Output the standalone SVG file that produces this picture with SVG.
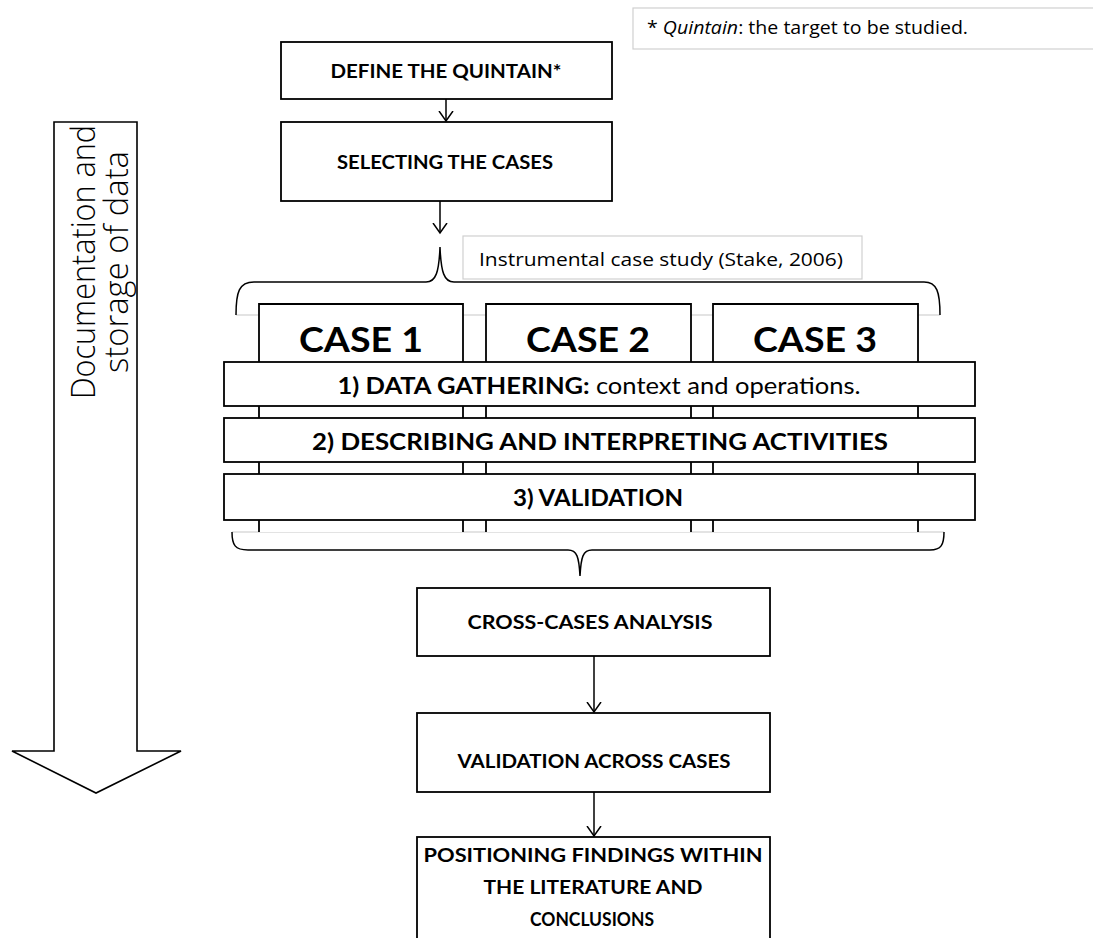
<svg xmlns="http://www.w3.org/2000/svg" width="1093" height="938" viewBox="0 0 1093 938">
<defs>
<style>
.box{fill:#fff;stroke:#000;stroke-width:1.8}
.note{fill:#fff;stroke:#d0d0d0;stroke-width:1.2}
.gray{stroke:#c8c8c8;stroke-width:1.2;fill:none}
.b{font-family:Lato,"Open Sans","Liberation Sans",sans-serif;font-weight:bold;fill:#000;text-anchor:middle}
.r{font-family:"Open Sans","Liberation Sans",sans-serif;fill:#000}
.con{stroke:#000;stroke-width:1.5;fill:none}
</style>
<marker id="v" markerUnits="userSpaceOnUse" markerWidth="20" markerHeight="20" refX="10" refY="10" orient="auto" viewBox="0 0 20 20">
<path d="M0,3 L10,10 L0,17" fill="none" stroke="#000" stroke-width="1.5"/>
</marker>
</defs>
<rect width="1093" height="938" fill="#fff"/>

<g id="note-quintain">
<rect class="note" x="633" y="8" width="470" height="41"/>
<text class="r" x="647" y="34" font-size="17.5" textLength="321" lengthAdjust="spacingAndGlyphs">* <tspan font-style="italic">Quintain</tspan>: the target to be studied.</text>
</g>

<g id="doc-arrow">
<polygon points="54,122 137,122 137,751 181,751 96,793 12,751 54,751" fill="#fff" stroke="#000" stroke-width="1.6"/>
<text class="r" transform="translate(95,262) rotate(-90)" text-anchor="middle" font-size="33" font-weight="300" textLength="274" lengthAdjust="spacingAndGlyphs">Documentation and</text>
<text class="r" transform="translate(128,262) rotate(-90)" text-anchor="middle" font-size="33" font-weight="300" textLength="222" lengthAdjust="spacingAndGlyphs">storage of data</text>
</g>

<g id="define">
<rect class="box" x="281" y="42" width="331" height="57"/>
<text class="b" x="446" y="77.5" font-size="18" textLength="231" lengthAdjust="spacingAndGlyphs">DEFINE THE QUINTAIN*</text>
</g>

<g id="selecting">
<rect class="box" x="281" y="122" width="331" height="79"/>
<text class="b" x="445" y="169" font-size="18" textLength="216" lengthAdjust="spacingAndGlyphs">SELECTING THE CASES</text>
</g>

<g id="instrumental-note">
<rect class="note" x="463" y="236" width="399" height="43"/>
<text class="r" x="479" y="266" font-size="19" textLength="364" lengthAdjust="spacingAndGlyphs">Instrumental case study (Stake, 2006)</text>
</g>

<g id="cases-frame">
<line class="gray" x1="236" y1="315" x2="940" y2="315"/>
<line class="gray" x1="232" y1="532" x2="944" y2="532"/>
<path class="con" d="M236,315 C236,292 239,282 254,282 L426,282 C436,282 439,272 440,247 C441,272 444,282 454,282 L924,282 C937,282 940,292 940,315"/>
<path class="con" d="M232,532 C232,545 235,550 248,550 L568,550 C577,550 579,557 580,576 C581,557 583,550 592,550 L930,550 C941,550 944,545 944,532"/>
</g>

<g id="case1">
<path class="box" d="M259,532 L259,304 L463,304 L463,532"/>
<text class="b" x="361" y="352" font-size="34" textLength="124" lengthAdjust="spacingAndGlyphs">CASE 1</text>
</g>
<g id="case2">
<path class="box" d="M486,532 L486,304 L691,304 L691,532"/>
<text class="b" x="588" y="352" font-size="34" textLength="124" lengthAdjust="spacingAndGlyphs">CASE 2</text>
</g>
<g id="case3">
<path class="box" d="M713,532 L713,304 L918,304 L918,532"/>
<text class="b" x="815" y="352" font-size="34" textLength="124" lengthAdjust="spacingAndGlyphs">CASE 3</text>
</g>

<g id="step1">
<rect class="box" x="224" y="362" width="751" height="44"/>
<text class="b" x="599" y="394" font-size="23" textLength="523" lengthAdjust="spacingAndGlyphs">1) DATA GATHERING: <tspan font-weight="normal">context and operations.</tspan></text>
</g>
<g id="step2">
<rect class="box" x="224" y="418" width="751" height="44"/>
<text class="b" x="600" y="450" font-size="23" textLength="576" lengthAdjust="spacingAndGlyphs">2) DESCRIBING AND INTERPRETING ACTIVITIES</text>
</g>
<g id="step3">
<rect class="box" x="224" y="474" width="751" height="46"/>
<text class="b" x="598" y="506" font-size="23" textLength="170" lengthAdjust="spacingAndGlyphs">3) VALIDATION</text>
</g>

<g id="cross-cases">
<rect class="box" x="417" y="588" width="353" height="68"/>
<text class="b" x="590" y="629" font-size="18" textLength="245" lengthAdjust="spacingAndGlyphs">CROSS-CASES ANALYSIS</text>
</g>
<g id="validation-across">
<rect class="box" x="417" y="713" width="353" height="79"/>
<text class="b" x="594" y="768" font-size="18" textLength="273" lengthAdjust="spacingAndGlyphs">VALIDATION ACROSS CASES</text>
</g>
<g id="positioning">
<rect class="box" x="417" y="837" width="353" height="110"/>
<text class="b" x="593" y="862" font-size="18" textLength="339" lengthAdjust="spacingAndGlyphs">POSITIONING FINDINGS WITHIN</text>
<text class="b" x="593" y="894" font-size="18" textLength="219" lengthAdjust="spacingAndGlyphs">THE LITERATURE AND</text>
<text class="b" x="592" y="926" font-size="18" textLength="124" lengthAdjust="spacingAndGlyphs">CONCLUSIONS</text>
</g>

<g id="connectors">
<line class="con" x1="446" y1="99" x2="446" y2="121" marker-end="url(#v)"/>
<line class="con" x1="440" y1="201" x2="440" y2="233" marker-end="url(#v)"/>
<line class="con" x1="594" y1="656" x2="594" y2="712" marker-end="url(#v)"/>
<line class="con" x1="594" y1="792" x2="594" y2="836" marker-end="url(#v)"/>
</g>
</svg>
